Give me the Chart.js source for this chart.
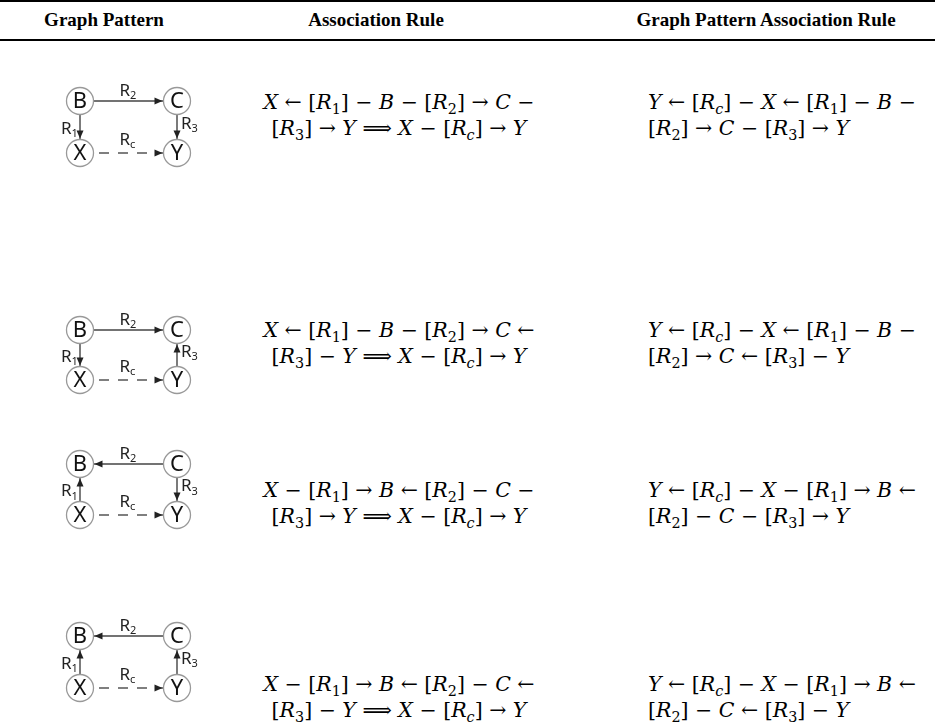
<!DOCTYPE html>
<html>
<head>
<meta charset="utf-8">
<script src="https://cdn.jsdelivr.net/npm/chart.js@4.4.0/dist/chart.umd.min.js"></script>
<style>
body { margin: 0; background: #fff; }
#page { position: relative; width: 942px; height: 724px; overflow: hidden; font-family: "Liberation Serif", serif; color: #000; }
.rule { position: absolute; left: 0; width: 935px; height: 2px; background: #000; }
.head { position: absolute; top: 9px; font-weight: bold; font-size: 19px; white-space: nowrap; transform: translateX(-50%); }
.f { position: absolute; font-family: "DejaVu Serif", serif; font-size: 20.5px; line-height: 26px; white-space: nowrap; }
.f.center { transform: translateX(-50%); text-align: center; }
.f sub { font-size: 70%; line-height: 0; vertical-align: -0.35em; }
canvas.pat { position: absolute; }
</style>
</head>
<body>
<div id="page"></div>
<script>
// header labels
const headers = ['Graph Pattern', 'Association Rule', 'Graph Pattern Association Rule'];

// graph pattern nodes (unit square)
const nodeNames = ['B', 'C', 'X', 'Y'];
const nodeX = [0, 1, 0, 1];
const nodeY = [1, 1, 0, 0];

// edges: same four relations in every pattern, only direction changes
const edgeLabels = ['2', '1', '3', 'c'];
const edgeDashed = [false, false, false, true];
const pattern1 = [['B', 'C'], ['B', 'X'], ['C', 'Y'], ['X', 'Y']];
const pattern2 = [['B', 'C'], ['B', 'X'], ['Y', 'C'], ['X', 'Y']];
const pattern3 = [['C', 'B'], ['X', 'B'], ['C', 'Y'], ['X', 'Y']];
const pattern4 = [['C', 'B'], ['X', 'B'], ['Y', 'C'], ['X', 'Y']];
const patterns = [pattern1, pattern2, pattern3, pattern4];

// rule text, _n = subscript
const assocRules = [
  ['X ← [R_1] − B − [R_2] → C −', '[R_3] → Y ⟹ X − [R_c] → Y'],
  ['X ← [R_1] − B − [R_2] → C ←', '[R_3] − Y ⟹ X − [R_c] → Y'],
  ['X − [R_1] → B ← [R_2] − C −', '[R_3] → Y ⟹ X − [R_c] → Y'],
  ['X − [R_1] → B ← [R_2] − C ←', '[R_3] − Y ⟹ X − [R_c] → Y']
];
const gpRules = [
  ['Y ← [R_c] − X ← [R_1] − B −', '[R_2] → C − [R_3] → Y'],
  ['Y ← [R_c] − X ← [R_1] − B −', '[R_2] → C ← [R_3] − Y'],
  ['Y ← [R_c] − X − [R_1] → B ←', '[R_2] − C − [R_3] → Y'],
  ['Y ← [R_c] − X − [R_1] → B ←', '[R_2] − C ← [R_3] − Y']
];

// layout
const headerX = [104, 376, 766];
const rowTop = [101, 330, 464, 636];
const rowBottom = [153, 380, 515, 688];
const ruleY = [102, 330, 490, 684];
const diagLeft = 80, diagRight = 177, nodeR = 13.5;

const page = document.getElementById('page');

function addDiv(cls, css, html) {
  const d = document.createElement('div');
  d.className = cls;
  Object.assign(d.style, css);
  d.innerHTML = html;
  page.appendChild(d);
  return d;
}

function fmt(s) {
  return s.replace(/([A-Z])/g, '<i>$1</i>')
    .replace(/_([0-9])/g, '<sub>$1</sub>')
    .replace(/_([a-z])/g, '<sub><i>$1</i></sub>');
}

addDiv('rule', { top: '0px' }, '');
addDiv('rule', { top: '39px' }, '');
headers.forEach((h, i) => addDiv('head', { left: headerX[i] + 'px' }, h));

assocRules.forEach((lines, r) => {
  addDiv('f center', { left: '399px', top: (ruleY[r] - 13) + 'px' }, fmt(lines[0]) + '<br>' + fmt(lines[1]));
});
gpRules.forEach((lines, r) => {
  addDiv('f', { left: '648px', top: (ruleY[r] - 13) + 'px' }, fmt(lines[0]) + '<br>' + fmt(lines[1]));
});

// arrows, node letters and edge labels
const diagramPlugin = {
  id: 'diagram',
  afterDatasetsDraw(chart, args, opts) {
    const ctx = chart.ctx;
    const xs = chart.scales.x, ys = chart.scales.y;
    const px = n => xs.getPixelForValue(nodeX[nodeNames.indexOf(n)]);
    const py = n => ys.getPixelForValue(nodeY[nodeNames.indexOf(n)]);
    ctx.save();
    opts.edges.forEach((e, i) => {
      const x0 = px(e[0]), y0 = py(e[0]), x1 = px(e[1]), y1 = py(e[1]);
      const len = Math.hypot(x1 - x0, y1 - y0);
      const ux = (x1 - x0) / len, uy = (y1 - y0) / len;
      const tx = x1 - ux * (nodeR + 1), ty = y1 - uy * (nodeR + 1);
      const al = 8, aw = 3.5;
      ctx.fillStyle = '#222';
      ctx.beginPath();
      ctx.moveTo(tx, ty);
      ctx.lineTo(tx - ux * al - uy * aw, ty - uy * al + ux * aw);
      ctx.lineTo(tx - ux * al + uy * aw, ty - uy * al - ux * aw);
      ctx.closePath();
      ctx.fill();

      // label placement by edge orientation
      const mx = (x0 + x1) / 2, my = (y0 + y1) / 2;
      const left = Math.min(x0, x1);
      let lx, ly;
      if (Math.abs(y1 - y0) < 1) {
        lx = mx - 9;
        ly = my - (edgeDashed[i] ? 13 : 10);
      } else if (left < chart.width / 2) {
        lx = mx - 19; ly = my + 2;
      } else {
        lx = mx + 4; ly = my - 3;
      }
      ctx.fillStyle = '#222';
      ctx.textBaseline = 'middle';
      ctx.textAlign = 'left';
      ctx.font = '17px "Noto Sans", sans-serif';
      ctx.fillText('R', lx, ly);
      const w = ctx.measureText('R').width;
      ctx.font = '11px "Noto Sans", sans-serif';
      ctx.fillText(edgeLabels[i], lx + w, ly + 5);
    });
    ctx.fillStyle = '#111';
    ctx.font = '22px "Noto Sans", sans-serif';
    ctx.textAlign = 'center';
    ctx.textBaseline = 'middle';
    nodeNames.forEach((n, i) => ctx.fillText(n, px(n), py(n) + 1));
    ctx.restore();
  }
};

patterns.forEach((edges, r) => {
  const cv = document.createElement('canvas');
  cv.className = 'pat';
  const padL = 40, padT = 28;
  const w = 180, h = rowBottom[r] - rowTop[r] + padT * 2;
  cv.width = w; cv.height = h;
  cv.style.left = (diagLeft - padL) + 'px';
  cv.style.top = (rowTop[r] - padT) + 'px';
  page.appendChild(cv);

  const edgeSets = edges.map((e, i) => ({
    type: 'line',
    data: e.map(n => ({ x: nodeX[nodeNames.indexOf(n)], y: nodeY[nodeNames.indexOf(n)] })),
    borderColor: edgeDashed[i] ? '#555' : '#444',
    borderWidth: 1.4,
    borderDash: edgeDashed[i] ? [10, 9] : [],
    pointRadius: 0,
    clip: false
  }));

  new Chart(cv, {
    type: 'scatter',
    data: {
      datasets: [{
        data: nodeNames.map((n, i) => ({ x: nodeX[i], y: nodeY[i] })),
        pointRadius: nodeR,
        pointBackgroundColor: '#fff',
        pointBorderColor: '#999',
        pointBorderWidth: 1.3,
        clip: false
      }].concat(edgeSets)
    },
    options: {
      responsive: false,
      animation: false,
      events: [],
      layout: { padding: { left: padL, right: w - padL - (diagRight - diagLeft), top: padT, bottom: padT } },
      scales: {
        x: { type: 'linear', min: 0, max: 1, display: false },
        y: { type: 'linear', min: 0, max: 1, display: false }
      },
      plugins: {
        legend: { display: false },
        tooltip: { enabled: false },
        diagram: { edges: edges }
      }
    },
    plugins: [diagramPlugin]
  });
});
</script>
</body>
</html>
